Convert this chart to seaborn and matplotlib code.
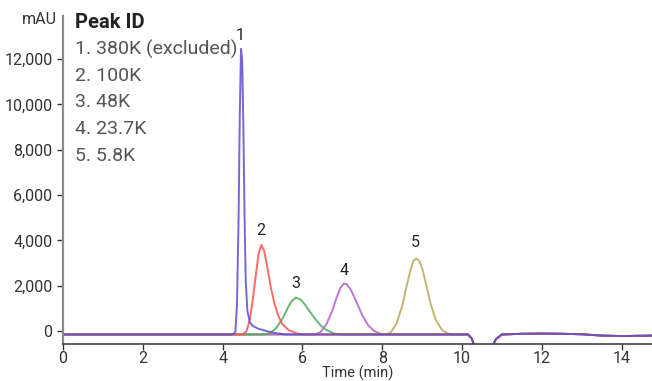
import matplotlib
matplotlib.use("Agg")
import matplotlib.pyplot as plt
import matplotlib.ticker as mticker
import pandas as pd
import seaborn as sns

# shared baseline (incl. the dip near 10.5 min)
base_t = [0, 1, 2, 3, 4, 5, 6, 7, 8, 9, 10.15, 10.25, 10.33, 10.5, 10.72, 10.85, 11.0, 11.5, 12, 12.5, 13, 13.5, 14, 14.8]
base_v = [-150, -150, -150, -150, -150, -150, -150, -150, -150, -150, -150, -350, -800, -900, -800, -350, -150, -120, -110, -120, -140, -200, -220, -200]

# peak segments
p1_t = [4.25, 4.32, 4.36, 4.40, 4.43, 4.46, 4.49, 4.52, 4.55, 4.58, 4.62, 4.68, 4.76, 4.9, 5.1, 5.35, 5.6]
p1_v = [-150, -50, 1200, 5000, 9500, 12450, 12000, 9000, 5000, 2200, 900, 400, 220, 100, 0, -100, -150]
p2_t = [4.50, 4.60, 4.68, 4.75, 4.82, 4.90, 4.97, 5.04, 5.12, 5.20, 5.30, 5.40, 5.50, 5.65, 5.85, 6.0]
p2_v = [-150, 0, 500, 1300, 2300, 3400, 3800, 3550, 2800, 2000, 1200, 650, 300, 50, -100, -150]
p3_t = [5.05, 5.2, 5.35, 5.5, 5.6, 5.7, 5.83, 5.95, 6.05, 6.15, 6.3, 6.45, 6.6, 6.8, 7.0]
p3_v = [-150, -80, 150, 550, 900, 1250, 1480, 1400, 1200, 950, 580, 260, 50, -110, -150]
p4_t = [6.3, 6.45, 6.6, 6.75, 6.85, 6.95, 7.04, 7.12, 7.22, 7.35, 7.5, 7.65, 7.8, 7.95, 8.1]
p4_v = [-150, -50, 300, 900, 1450, 1900, 2100, 2050, 1800, 1300, 700, 250, 0, -120, -150]
p5_t = [8.05, 8.2, 8.35, 8.5, 8.6, 8.7, 8.78, 8.85, 8.93, 9.02, 9.12, 9.22, 9.35, 9.5, 9.65, 9.8]
p5_v = [-150, -80, 300, 1100, 1900, 2650, 3100, 3200, 3100, 2650, 1900, 1150, 450, 50, -110, -150]

peak_names = ["1", "2", "3", "4", "5"]
peak_labels = ["1. 380K (excluded)", "2. 100K", "3. 48K", "4. 23.7K", "5. 5.8K"]
label_x = [4.45, 4.96, 5.84, 7.04, 8.82]
label_y = [13050, 4430, 2100, 2680, 3900]
colors = ["#5a4fcf", "#ff4f4f", "#4caa5a", "#b35ec9", "#b8aa55"]

peaks = [(p1_t, p1_v), (p2_t, p2_v), (p3_t, p3_v), (p4_t, p4_v), (p5_t, p5_v)]
rows = []
for name, (pt, pv) in zip(peak_names, peaks):
    for t, v in zip(base_t, base_v):
        if t < pt[0] or t > pt[-1]:
            rows.append((name, t, v))
    for t, v in zip(pt, pv):
        rows.append((name, t, v))
df = pd.DataFrame(rows, columns=["peak", "time", "mAU"])

sns.set_style("ticks")
plt.rcParams["font.family"] = ["Roboto", "DejaVu Sans"]

fig = plt.figure(figsize=(6.52, 3.81), dpi=100)
ax = fig.add_axes([63 / 652, 37 / 381, 589 / 652, 328 / 381])

# draw later peaks first so the sharp one sits on top
sns.lineplot(data=df, x="time", y="mAU", hue="peak", hue_order=peak_names[::-1],
             palette=dict(zip(peak_names, colors)), linewidth=1.4, alpha=0.85,
             legend=False, ax=ax)

for n, x, y in zip(peak_names, label_x, label_y):
    ax.text(x, y, n, ha="center", va="center", fontsize=11.5, color="#222222")

ax.set_xlim(0, 14.76)
ax.set_ylim(-570, 13900)
ax.set_xticks([0, 2, 4, 6, 8, 10, 12, 14])
ax.set_yticks([0, 2000, 4000, 6000, 8000, 10000, 12000])
ax.yaxis.set_major_formatter(mticker.FuncFormatter(lambda v, p: f"{int(v):,}"))
ax.tick_params(labelsize=11.5, colors="#333333", length=4, width=1)
ax.tick_params(axis="x", pad=1)
ax.set_xlabel("Time (min)", fontsize=10.5, color="#333333", labelpad=0)
ax.set_ylabel("")
sns.despine(ax=ax)
ax.spines["left"].set_color("#8a8a8a")
ax.spines["left"].set_linewidth(1.6)
ax.spines["bottom"].set_color("#444444")
ax.spines["bottom"].set_linewidth(1.2)

fig.text(57 / 652, 1 - 20 / 381, "mAU", ha="right", va="center", fontsize=11.5, color="#333333")
fig.text(75 / 652, 1 - 22 / 381, "Peak ID", ha="left", va="center", fontsize=14.5,
         fontweight="bold", color="#222222")
entry_y = [49, 76, 102, 129, 156]
for lab, yy in zip(peak_labels, entry_y):
    fig.text(75 / 652, 1 - yy / 381, lab, ha="left", va="center", fontsize=14, color="#555555")

fig.savefig("out.png", dpi=100)
